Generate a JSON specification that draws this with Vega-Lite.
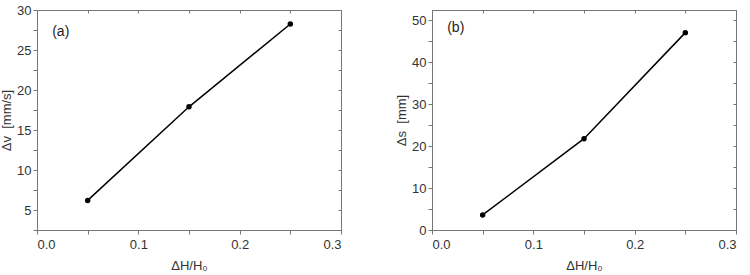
{
  "$schema": "https://vega.github.io/schema/vega-lite/v6.json",
  "padding": {"left": 0, "top": 3, "right": 0, "bottom": 0},
  "background": "white",
  "datasets": {
    "a": [
      {"r": 0.05, "v": 6.2},
      {"r": 0.15, "v": 17.9},
      {"r": 0.25, "v": 28.25}
    ],
    "b": [
      {"r": 0.05, "s": 3.6},
      {"r": 0.15, "s": 21.8},
      {"r": 0.25, "s": 47.1}
    ]
  },
  "config": {
    "font": "Liberation Sans",
    "view": {"stroke": "#777777", "strokeWidth": 1},
    "axis": {
      "domainColor": "#777777",
      "tickColor": "#777777",
      "labelColor": "#333333",
      "titleColor": "#333333",
      "labelFont": "Liberation Sans",
      "titleFont": "Liberation Sans",
      "labelFontSize": 13,
      "titleFontSize": 13,
      "titleFontWeight": "normal",
      "grid": false,
      "tickSize": 4
    }
  },
  "hconcat": [
    {
      "width": 304,
      "height": 220,
      "layer": [
        {
          "data": {"name": "a"},
          "mark": {"type": "line", "color": "black", "strokeWidth": 1.5},
          "encoding": {
            "x": {"field": "r", "type": "quantitative", "scale": {"domain": [0, 0.3], "nice": false},
              "axis": {"title": "ΔH/H₀", "values": [0, 0.05, 0.1, 0.15, 0.2, 0.25, 0.3],
                "labelExpr": "abs(round(datum.value*10) - datum.value*10) < 0.001 ? format(datum.value, '.1f') : ''",
                "labelPadding": 4, "titlePadding": 8}},
            "y": {"field": "v", "type": "quantitative", "scale": {"domain": [2.5, 30], "nice": false, "zero": false},
              "axis": {"title": "Δv\u00a0\u00a0[mm/s]", "values": [2.5, 5, 7.5, 10, 12.5, 15, 17.5, 20, 22.5, 25, 27.5, 30],
                "labelExpr": "datum.value % 5 == 0 ? format(datum.value, 'd') : ''",
                "labelPadding": 2, "titlePadding": 3}}
          }
        },
        {
          "data": {"name": "a"},
          "mark": {"type": "point", "filled": true, "color": "black", "size": 30, "opacity": 1},
          "encoding": {
            "x": {"field": "r", "type": "quantitative",
              "axis": {"orient": "top", "title": null, "labels": false, "tickSize": -3, "values": [0, 0.05, 0.1, 0.15, 0.2, 0.25, 0.3]}},
            "y": {"field": "v", "type": "quantitative",
              "axis": {"orient": "right", "title": null, "labels": false, "tickSize": -3, "values": [2.5, 5, 7.5, 10, 12.5, 15, 17.5, 20, 22.5, 25, 27.5, 30]}}
          }
        },
        {
          "data": {"values": [{"t": "(a)", "x": 0.015, "y": 27.3}]},
          "mark": {"type": "text", "align": "left", "baseline": "middle", "fontSize": 14, "color": "#222222"},
          "encoding": {
            "x": {"field": "x", "type": "quantitative", "axis": null},
            "y": {"field": "y", "type": "quantitative", "axis": null},
            "text": {"field": "t"}
          }
        }
      ],
      "resolve": {"axis": {"x": "independent", "y": "independent"}}
    },
    {
      "width": 304,
      "height": 220,
      "layer": [
        {
          "data": {"name": "b"},
          "mark": {"type": "line", "color": "black", "strokeWidth": 1.5},
          "encoding": {
            "x": {"field": "r", "type": "quantitative", "scale": {"domain": [0, 0.3], "nice": false},
              "axis": {"title": "ΔH/H₀", "values": [0, 0.05, 0.1, 0.15, 0.2, 0.25, 0.3],
                "labelExpr": "abs(round(datum.value*10) - datum.value*10) < 0.001 ? format(datum.value, '.1f') : ''",
                "labelPadding": 4, "titlePadding": 8}},
            "y": {"field": "s", "type": "quantitative", "scale": {"domain": [0, 52.5], "nice": false},
              "axis": {"title": "Δs\u00a0\u00a0[mm]", "values": [0, 5, 10, 15, 20, 25, 30, 35, 40, 45, 50],
                "labelExpr": "datum.value % 10 == 0 ? format(datum.value, 'd') : ''",
                "labelPadding": 2, "titlePadding": 3}}
          }
        },
        {
          "data": {"name": "b"},
          "mark": {"type": "point", "filled": true, "color": "black", "size": 30, "opacity": 1},
          "encoding": {
            "x": {"field": "r", "type": "quantitative",
              "axis": {"orient": "top", "title": null, "labels": false, "tickSize": -3, "values": [0, 0.05, 0.1, 0.15, 0.2, 0.25, 0.3]}},
            "y": {"field": "s", "type": "quantitative",
              "axis": {"orient": "right", "title": null, "labels": false, "tickSize": -3, "values": [0, 5, 10, 15, 20, 25, 30, 35, 40, 45, 50]}}
          }
        },
        {
          "data": {"values": [{"t": "(b)", "x": 0.015, "y": 48.3}]},
          "mark": {"type": "text", "align": "left", "baseline": "middle", "fontSize": 14, "color": "#222222"},
          "encoding": {
            "x": {"field": "x", "type": "quantitative", "axis": null},
            "y": {"field": "y", "type": "quantitative", "axis": null},
            "text": {"field": "t"}
          }
        }
      ],
      "resolve": {"axis": {"x": "independent", "y": "independent"}}
    }
  ],
  "bounds": "flush",
  "spacing": 91
}
